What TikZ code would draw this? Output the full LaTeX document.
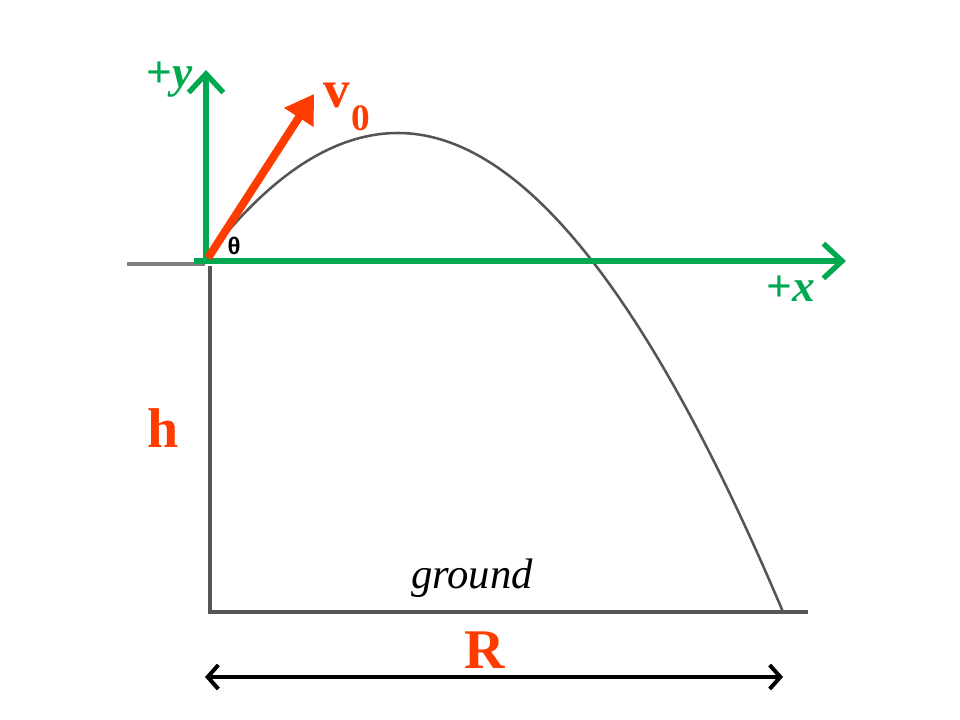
\documentclass[tikz,border=0pt]{standalone}
\usepackage{fontspec}
\setmainfont{Liberation Serif}
\newfontfamily\thetafont{Liberation Sans}
\usetikzlibrary{arrows.meta}
\definecolor{axgreen}{RGB}{0,168,80}
\definecolor{vred}{RGB}{255,60,0}
\definecolor{linegray}{RGB}{85,85,85}
\tikzset{
  axisarrow/.style={draw=axgreen, line width=4pt, -{Straight Barb[length=14pt,width=26pt,line width=4pt]}},
  velarrow/.style={draw=vred, line width=6pt, -{Triangle[length=21pt,width=25pt]}},
  groundline/.style={draw=linegray, line width=2.4pt},
  pathline/.style={draw=linegray, line width=1.9pt},
  rangearrow/.style={draw=black, line width=3pt, {Straight Barb[length=8pt,width=18pt,line width=3pt]}-{Straight Barb[length=8pt,width=18pt,line width=3pt]}},
  greenlbl/.style={text=axgreen, font=\fontsize{34}{34}\selectfont\bfseries},
  redlbl/.style={text=vred, font=\fontsize{42}{42}\selectfont\bfseries},
}
\begin{document}
\begin{tikzpicture}[x=0.75pt,y=-0.75pt]
\useasboundingbox (0,0) rectangle (960,720);
% named points
\coordinate (O) at (206,262);
\coordinate (ledgeL) at (127,264);
\coordinate (ledgeR) at (205,264);
\coordinate (cliffT) at (210,266);
\coordinate (cliffB) at (210,612);
\coordinate (groundR) at (808,612);
\coordinate (ytip) at (206,70);
\coordinate (xstart) at (194,261);
\coordinate (xtip) at (846,261);
\coordinate (vstart) at (208,258);
\coordinate (vtip) at (314,94);
\coordinate (rL) at (205,677);
\coordinate (rR) at (783,677);
% ground / cliff
\draw[groundline, draw=gray] (ledgeL) -- (ledgeR);
\draw[groundline] (cliffT) -- (cliffB) -- (groundR);
% trajectory
\draw[pathline] plot[domain=205:398, samples=60] (\x, {133+34*((\x-398)/100)^2})
  -- plot[domain=398:783, samples=90] (\x, {133+35.58*((\x-398)/100)^2-0.849*((\x-398)/100)^3});
% axes
\draw[axisarrow] (O) -- (ytip);
\draw[axisarrow] (xstart) -- (xtip);
% velocity
\draw[velarrow] (vstart) -- (vtip);
% range arrow
\draw[rangearrow] (rL) -- (rR);
% labels
\node[greenlbl] (ylbl) at (170,80) {+\textit{y}};
\node[greenlbl] (xlbl) at (791,289) {+\textit{x}};
\node[text=vred, font=\fontsize{40}{40}\selectfont\bfseries] (vlbl) at (337,96) {v};
\node[text=vred, font=\fontsize{28}{28}\selectfont\bfseries] (vsub) at (361,118) {0};
\node[font=\thetafont\fontsize{18}{18}\selectfont\bfseries] (theta) at (234,246) {θ};
\node[redlbl] (hlbl) at (163,428) {h};
\node[redlbl] (Rlbl) at (485,650) {R};
\node[font=\fontsize{32}{32}\selectfont\itshape] (glbl) at (472,578) {ground};
\end{tikzpicture}
\end{document}
